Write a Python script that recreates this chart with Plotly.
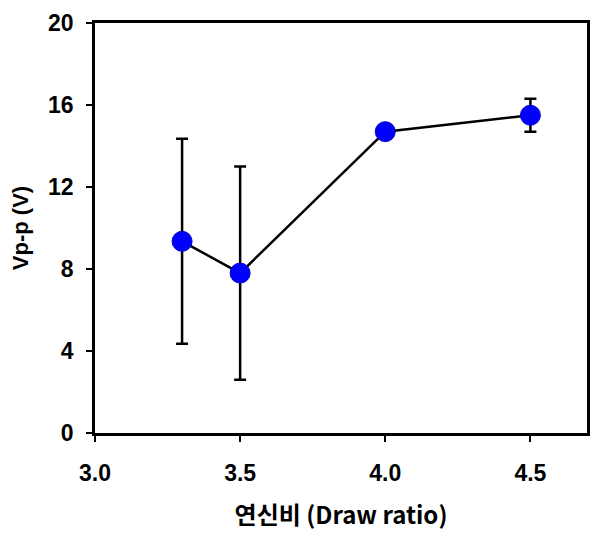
import plotly.graph_objects as go

# Draw ratio vs peak-to-peak voltage
draw_ratio = [3.3, 3.5, 4.0, 4.5]
vpp = [9.35, 7.8, 14.7, 15.5]
vpp_err = [5.0, 5.2, 0.3, 0.8]

x_ticks = [3.0, 3.5, 4.0, 4.5]
x_tick_text = ["3.0", "3.5", "4.0", "4.5"]
y_ticks = [0, 4, 8, 12, 16, 20]

fig = go.Figure()
fig.add_trace(go.Scatter(
    x=draw_ratio, y=vpp,
    mode="lines+markers",
    line=dict(color="black", width=2.5),
    marker=dict(color="#0000ff", size=20, line=dict(color="#0000cc", width=1)),
    error_y=dict(type="data", array=vpp_err, visible=True,
                 color="black", thickness=2.5, width=6),
    showlegend=False,
))

tick_font = dict(family="Liberation Sans, Arial, sans-serif", size=23,
                 color="black", weight="bold")

fig.update_layout(
    width=598, height=540,
    margin=dict(l=95, r=8, t=23, b=107),
    paper_bgcolor="white", plot_bgcolor="white",
    xaxis=dict(
        range=[3.0, 4.695], tickvals=x_ticks, ticktext=x_tick_text,
        ticks="outside", ticklen=6, tickwidth=2, tickcolor="black",
        ticklabelstandoff=12,
        showline=True, linecolor="black", linewidth=2.5, mirror=True,
        showgrid=False, zeroline=False,
        tickfont=tick_font,
        title=dict(text="연신비 (Draw ratio)", standoff=22,
                   font=dict(family="Noto Sans CJK KR, sans-serif", size=24,
                             color="black", weight="bold")),
    ),
    yaxis=dict(
        range=[0, 20], tickvals=y_ticks,
        ticks="outside", ticklen=6, tickwidth=2, tickcolor="black",
        ticklabelstandoff=8,
        showline=True, linecolor="black", linewidth=2.5, mirror=True,
        showgrid=False, zeroline=False,
        tickfont=tick_font,
        title=dict(text="Vp-p (V)", standoff=14,
                   font=dict(family="Liberation Sans, Arial, sans-serif", size=22,
                             color="black", weight="bold")),
    ),
)

fig.write_html("out.html")
